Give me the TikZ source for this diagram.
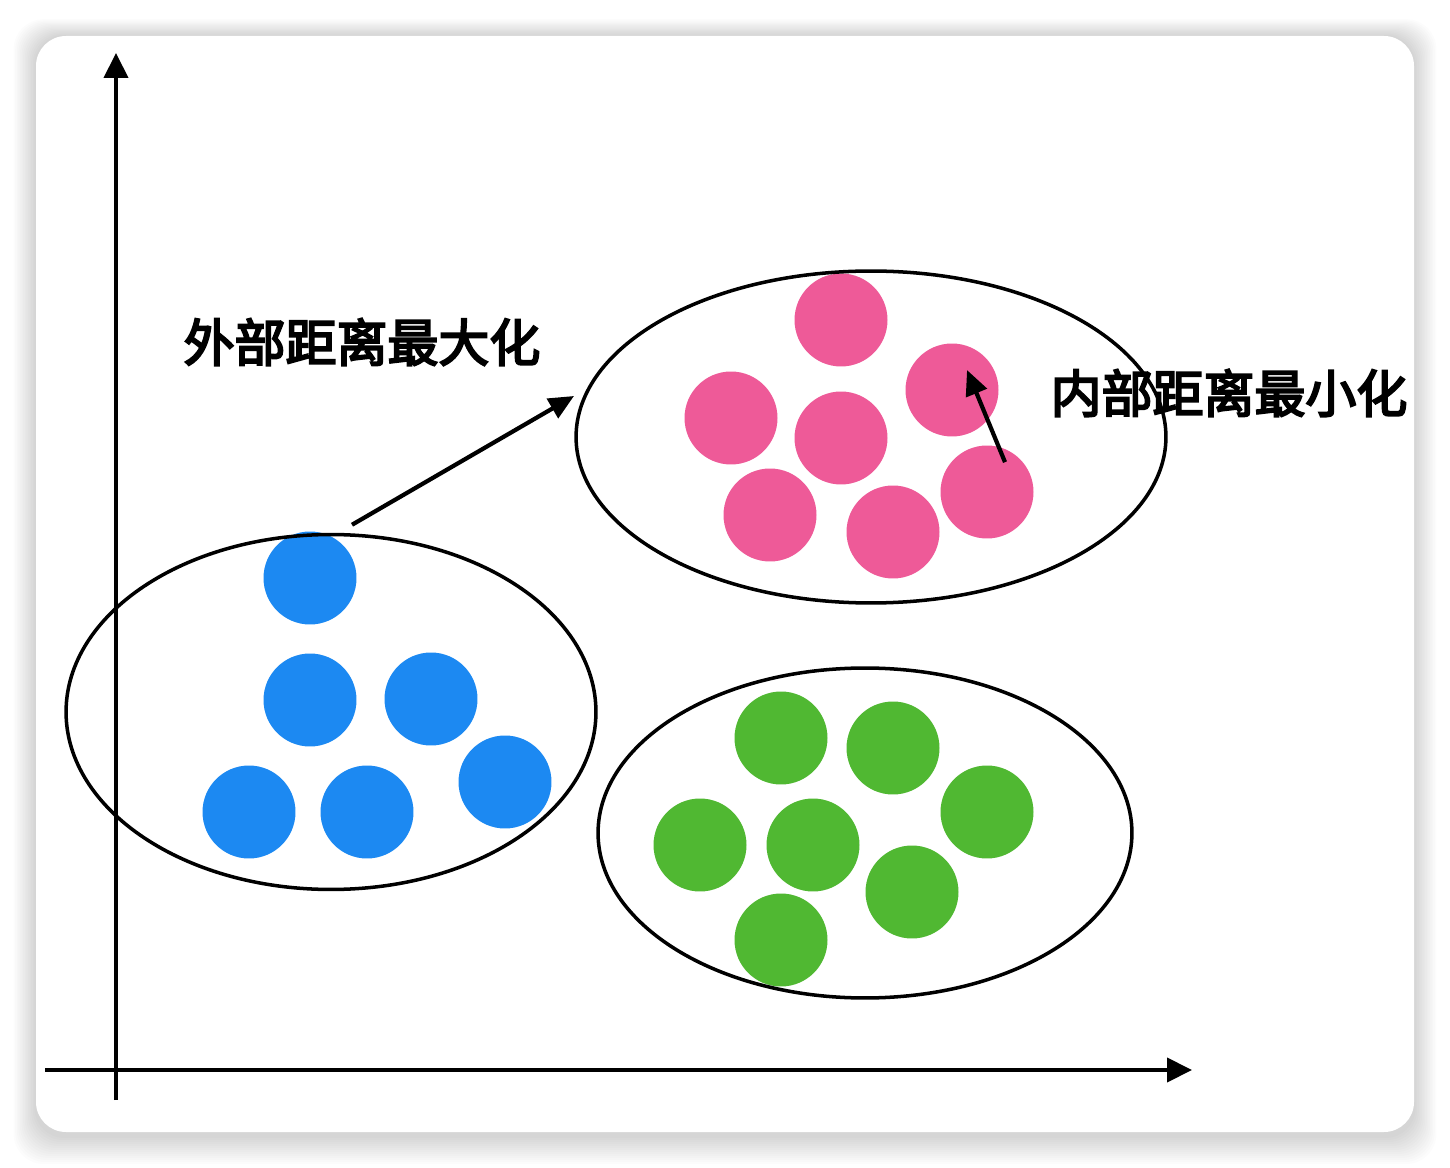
\documentclass[tikz,border=0pt]{standalone}
\usepackage{fontspec}
\newfontfamily\cjk{Noto Sans CJK SC}[FakeBold=4]
\usepackage{tikz}
\usetikzlibrary{arrows.meta,shapes.geometric}

\definecolor{dotblue}{RGB}{28,137,242}
\definecolor{dotpink}{RGB}{238,90,152}
\definecolor{dotgreen}{RGB}{80,184,50}

\tikzset{
  dot/.style={circle,inner sep=0pt,minimum size=1.86cm},
  group/.style={ellipse,draw,line width=2pt,inner sep=0pt},
  axis/.style={line width=2.3pt,-{Triangle[length=0.5cm,width=0.48cm]}},
  pointer/.style={line width=2.4pt,-{Triangle[length=0.5cm,width=0.44cm]}},
  label/.style={font=\cjk\fontsize{29}{32}\selectfont,inner sep=0pt}
}

\begin{document}
\begin{tikzpicture}[x=0.02cm,y=-0.02cm]
  \useasboundingbox (0,0) rectangle (1450,1168);
  %背景と影
  \fill[white] (0,0) rectangle (1450,1168);
  \foreach \s in {1,...,14}
    \fill[black,opacity=0.01,rounded corners=0.6cm] (36-\s*1.6,36-\s*1.2) rectangle (1414+\s*1.6,1136+\s*2);
  \fill[white,rounded corners=0.6cm] (36,36) rectangle (1414,1132);
  %軸
  \coordinate (xs) at (45,1070);
  \coordinate (xe) at (1192,1070);
  \coordinate (ys) at (116,1100);
  \coordinate (ye) at (116,53);
  \draw[axis] (xs) -- (xe);
  \draw[axis] (ys) -- (ye);
  %青
  \foreach \n/\x/\y in {b1/310/578, b2/310/700, b3/431/699, b4/505/782, b5/249/812, b6/367/812}
    \node[dot,fill=dotblue] (\n) at (\x,\y) {};
  %ピンク
  \foreach \n/\x/\y in {p1/841/320, p2/952/390, p3/731/418, p4/841/438, p5/987/492, p6/770/515, p7/893/532}
    \node[dot,fill=dotpink] (\n) at (\x,\y) {};
  %緑
  \foreach \n/\x/\y in {g1/781/738, g2/893/748, g3/987/812, g4/700/845, g5/813/845, g6/912/892, g7/781/940}
    \node[dot,fill=dotgreen] (\n) at (\x,\y) {};
  %クラスタ
  \node[group,minimum width=10.6cm,minimum height=7.1cm] (blue) at (331,712) {};
  \node[group,minimum width=11.8cm,minimum height=6.64cm] (pink) at (871,437) {};
  \node[group,minimum width=10.68cm,minimum height=6.6cm] (green) at (865,833) {};
  %矢印
  \coordinate (outtip) at (574,396);
  \coordinate (intip) at (967,370);
  \draw[pointer] (blue.north) ++(21,-8) -- (outtip);
  \draw[pointer] (p5.north) ++(18,17) -- (intip);
  %ラベル
  \node[label] (outer) at (362,342) {外部距离最大化};
  \node[label] (inner) at (1229,393) {内部距离最小化};
\end{tikzpicture}
\end{document}
